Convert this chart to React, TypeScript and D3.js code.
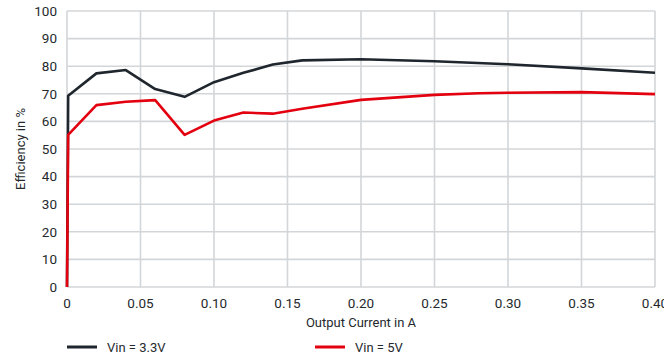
import { useEffect, useRef } from "react";
import * as d3 from "d3";

// chart size
const width = 664;
const height = 358;
const margin = { top: 11, right: 9, bottom: 71, left: 67 };

// data
const current3v3 = [0, 0.0008, 0.02, 0.04, 0.06, 0.08, 0.10, 0.12, 0.14, 0.16, 0.20, 0.25, 0.30, 0.35, 0.40];
const eff3v3 = [0, 69.3, 77.4, 78.6, 71.7, 68.9, 74.2, 77.6, 80.6, 82.1, 82.5, 81.8, 80.7, 79.2, 77.6];

const current5v = [0, 0.0008, 0.02, 0.04, 0.06, 0.08, 0.10, 0.12, 0.14, 0.16, 0.20, 0.25, 0.28, 0.30, 0.35, 0.40];
const eff5v = [0, 55.1, 65.9, 67.1, 67.7, 55.1, 60.3, 63.2, 62.8, 64.6, 67.8, 69.6, 70.2, 70.4, 70.6, 69.9];

const xTicks = [0, 0.05, 0.1, 0.15, 0.2, 0.25, 0.3, 0.35, 0.4];
const yTicks = [0, 10, 20, 30, 40, 50, 60, 70, 80, 90, 100];

const seriesNames = ["Vin = 3.3V", "Vin = 5V"];
const seriesColours = ["#1f262d", "#e3000f"];

const font = "Roboto, 'DejaVu Sans', sans-serif";
const textColour = "#25292d";
const gridColour = "#d3d6d9";

const App = () => {
  const ref = useRef<SVGSVGElement>(null);

  useEffect(() => {
    document.body.style.margin = "0";
    const svg = d3.select(ref.current);
    svg.selectAll("*").remove();

    const x = d3.scaleLinear().domain([0, 0.4]).range([margin.left, width - margin.right]);
    const y = d3.scaleLinear().domain([0, 100]).range([height - margin.bottom, margin.top]);

    const g = svg.append("g");

    // grid lines
    g.selectAll(".hgrid")
      .data(yTicks)
      .join("line")
      .attr("x1", x(0))
      .attr("x2", x(0.4))
      .attr("y1", (d) => y(d))
      .attr("y2", (d) => y(d))
      .attr("stroke", gridColour)
      .attr("stroke-width", 1.6);

    g.selectAll(".vgrid")
      .data(xTicks)
      .join("line")
      .attr("x1", (d) => x(d))
      .attr("x2", (d) => x(d))
      .attr("y1", y(0))
      .attr("y2", y(100))
      .attr("stroke", gridColour)
      .attr("stroke-width", 1.6);

    // tick labels
    g.selectAll(".ylab")
      .data(yTicks)
      .join("text")
      .attr("x", margin.left - 10)
      .attr("y", (d) => y(d))
      .attr("dy", "0.35em")
      .attr("text-anchor", "end")
      .attr("font-size", 13.5)
      .attr("font-family", font)
      .attr("fill", textColour)
      .text((d) => d);

    g.selectAll(".xlab")
      .data(xTicks)
      .join("text")
      .attr("x", (d) => x(d))
      .attr("y", y(0) + 16)
      .attr("dy", "0.35em")
      .attr("text-anchor", "middle")
      .attr("font-size", 13.5)
      .attr("font-family", font)
      .attr("fill", textColour)
      .text((d) => (d === 0 ? "0" : d3.format(".2f")(d)));

    // axis titles
    g.append("text")
      .attr("x", (x(0) + x(0.4)) / 2)
      .attr("y", 322)
      .attr("dy", "0.35em")
      .attr("text-anchor", "middle")
      .attr("font-size", 13)
      .attr("font-family", font)
      .attr("fill", textColour)
      .text("Output Current in A");

    g.append("text")
      .attr("transform", `translate(20, ${(y(0) + y(100)) / 2}) rotate(-90)`)
      .attr("dy", "0.35em")
      .attr("text-anchor", "middle")
      .attr("font-size", 13)
      .attr("font-family", font)
      .attr("fill", textColour)
      .text("Efficiency in %");

    // lines
    const line = d3
      .line<[number, number]>()
      .x((d) => x(d[0]))
      .y((d) => y(d[1]));

    const series: [number, number][][] = [
      current3v3.map((c, i) => [c, eff3v3[i]]),
      current5v.map((c, i) => [c, eff5v[i]]),
    ];

    series.forEach((s, i) => {
      g.append("path")
        .attr("d", line(s))
        .attr("fill", "none")
        .attr("stroke", seriesColours[i])
        .attr("stroke-width", 2.6)
        .attr("stroke-linejoin", "round");
    });

    // legend
    const legendX = [67, 315];
    seriesNames.forEach((name, i) => {
      g.append("line")
        .attr("x1", legendX[i])
        .attr("x2", legendX[i] + 30)
        .attr("y1", 347)
        .attr("y2", 347)
        .attr("stroke", seriesColours[i])
        .attr("stroke-width", 3);
      g.append("text")
        .attr("x", legendX[i] + 40)
        .attr("y", 347)
        .attr("dy", "0.35em")
        .attr("font-size", 13)
        .attr("font-family", font)
        .attr("fill", textColour)
        .text(name);
    });
  }, []);

  return <svg ref={ref} width={width} height={height} style={{ display: "block" }} />;
};

export default App;
